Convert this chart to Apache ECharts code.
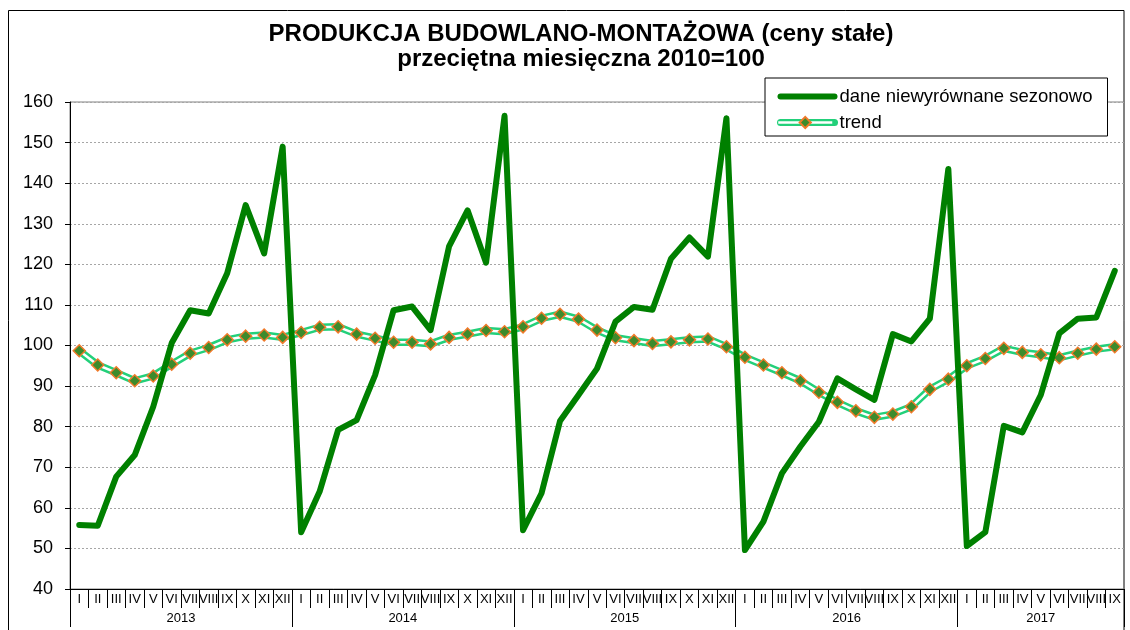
<!DOCTYPE html>
<html>
<head>
<meta charset="utf-8">
<script src="https://cdn.jsdelivr.net/npm/echarts@6/dist/echarts.min.js"></script>
<style>
  html, body { margin: 0; padding: 0; background: #fff; }
  #chart { width: 1130px; height: 630px; }
</style>
</head>
<body>
<div id="chart"></div>
<script>
// dane
var months = ['I', 'II', 'III', 'IV', 'V', 'VI', 'VII', 'VIII', 'IX', 'X', 'XI', 'XII'];
var years = ['2013', '2014', '2015', '2016', '2017'];
var monthsPerYear = [12, 12, 12, 12, 9];

var raw = [
    55.8, 55.6, 67.7, 73.0, 84.9, 100.6, 108.7, 107.9, 117.8, 134.6, 122.7, 149.0,
    54.0, 64.0, 79.2, 81.6, 92.7, 108.7, 109.6, 103.8, 124.4, 133.3, 120.4, 156.6,
    54.5, 63.6, 81.4, 87.8, 94.3, 105.9, 109.5, 108.8, 121.4, 126.6, 121.9, 156.0,
    49.6, 56.6, 68.5, 75.1, 81.2, 91.9, 89.2, 86.6, 102.8, 101.0, 106.6, 143.5,
    50.6, 54.0, 80.2, 78.6, 87.8, 103.0, 106.6, 106.9, 118.4
];

var trend = [
    98.7, 95.2, 93.3, 91.3, 92.5, 95.4, 98.1, 99.5, 101.4, 102.3, 102.6, 102.0,
    103.2, 104.5, 104.6, 102.8, 101.8, 100.8, 100.8, 100.4, 102.0, 102.8, 103.7, 103.4,
    104.6, 106.7, 107.7, 106.5, 103.8, 101.9, 101.2, 100.5, 100.9, 101.4, 101.6, 99.7,
    97.1, 95.2, 93.3, 91.3, 88.5, 86.0, 83.9, 82.3, 83.1, 84.9, 89.2, 91.7,
    95.0, 96.8, 99.3, 98.3, 97.7, 97.0, 98.1, 99.1, 99.7
];

var categories = [];
var yearOfMonth = [];
years.forEach(function (y, yi) {
    for (var m = 0; m < monthsPerYear[yi]; m++) {
        categories.push(months[m]);
        yearOfMonth.push(y);
    }
});

var FONT = 'Liberation Sans, Arial, sans-serif';
var N = categories.length;
var noSymbol = { color: 'rgba(0,0,0,0)', borderWidth: 0 };

var chart = echarts.init(document.getElementById('chart'));

chart.setOption({
    animation: false,
    textStyle: { fontFamily: FONT, color: '#000' },
    title: {
        text: 'PRODUKCJA BUDOWLANO-MONTAŻOWA (ceny stałe)\nprzeciętna miesięczna 2010=100',
        left: 576,
        top: 17,
        textAlign: 'center',
        textStyle: { fontFamily: FONT, fontSize: 24, fontWeight: 'bold', color: '#000', lineHeight: 25 }
    },
    legend: [{
        orient: 'vertical',
        left: 765,
        top: 78,
        padding: [9, 15, 4, 12],
        itemGap: 7,
        itemWidth: 54,
        itemHeight: 14,
        backgroundColor: '#fff',
        borderColor: '#000',
        borderWidth: 1,
        selectedMode: false,
        textStyle: { fontFamily: FONT, fontSize: 18.5, color: '#000' },
        data: [
            { name: 'dane niewyrównane sezonowo', itemStyle: noSymbol, lineStyle: { width: 6, color: '#008000', cap: 'round' } },
            { name: 'trend', itemStyle: noSymbol, lineStyle: { width: 7, color: '#22d07a', cap: 'round' } }
        ]
    }, {
        orient: 'vertical',
        left: 777,
        top: 115.5,
        padding: 0,
        itemWidth: 54,
        itemHeight: 14,
        selectedMode: false,
        formatter: function () { return ''; },
        data: [{ name: 'trendInner', lineStyle: { width: 2.5, color: '#fff' } }]
    }],
    grid: [{
        left: 70, right: 6, top: 102, bottom: 41,
        show: true, borderColor: '#808080', borderWidth: 1
    }, {
        left: 70, right: 6, top: 345.5, bottom: 41
    }],
    xAxis: [{
        type: 'category',
        gridIndex: 0,
        data: categories,
        boundaryGap: true,
        axisLine: { lineStyle: { color: '#000', width: 1 } },
        axisTick: { show: true, interval: 0, length: 19, lineStyle: { color: '#000' } },
        axisLabel: { interval: 0, margin: 4, fontSize: 13, color: '#000', fontFamily: FONT }
    }, {
        type: 'category',
        gridIndex: 0,
        position: 'bottom',
        offset: 19,
        data: yearOfMonth,
        boundaryGap: true,
        axisLine: { show: false },
        axisTick: {
            show: true,
            length: 19,
            lineStyle: { color: '#000' },
            interval: function (i) { return i % 12 === 0 || i === N; }
        },
        axisLabel: {
            margin: 4,
            fontSize: 13,
            color: '#000',
            interval: function (i) { return (i < 48 && i % 12 === 6) || i === 52; },
            formatter: function (v, i) { return i < 48 ? '{s|' + v + '}' : '{c|' + v + '}'; },
            rich: {
                s: { fontSize: 13, fontFamily: FONT, color: '#000', padding: [0, 18.5, 0, 0] },
                c: { fontSize: 13, fontFamily: FONT, color: '#000' }
            }
        }
    }, {
        type: 'category',
        gridIndex: 1,
        position: 'top',
        data: categories,
        boundaryGap: true,
        axisLine: { lineStyle: { color: '#000', width: 1 } },
        axisTick: { show: true, inside: true, interval: 0, length: 4, lineStyle: { color: '#000' } },
        axisLabel: { show: false }
    }],
    yAxis: [{
        type: 'value',
        gridIndex: 0,
        min: 40,
        max: 160,
        interval: 10,
        axisLine: { show: true, lineStyle: { color: '#000', width: 1 } },
        axisTick: { show: true, length: 5, lineStyle: { color: '#000' } },
        axisLabel: { margin: 17, fontSize: 18, color: '#000', fontFamily: FONT },
        splitLine: { lineStyle: { color: '#a6a6a6', type: [2, 2], width: 1 } }
    }, {
        type: 'value',
        gridIndex: 1,
        show: false
    }],
    series: [{
        name: 'trend',
        type: 'line',
        data: trend,
        symbol: 'none',
        z: 2,
        lineStyle: { color: '#22d07a', width: 7.5, join: 'round' }
    }, {
        name: 'trendInner',
        type: 'line',
        data: trend,
        symbol: 'diamond',
        symbolSize: 12,
        z: 3,
        itemStyle: { color: '#3d8b2c', borderColor: '#f07a2a', borderWidth: 1.5 },
        lineStyle: { color: '#fff', width: 2.5, join: 'round' }
    }, {
        name: 'dane niewyrównane sezonowo',
        type: 'line',
        data: raw,
        symbol: 'none',
        z: 4,
        lineStyle: { color: '#008000', width: 6, join: 'round', cap: 'round' }
    }],
    graphic: [{
        type: 'rect',
        silent: true,
        z: -10,
        shape: { x: 8.5, y: 10.5, width: 1115.5, height: 640 },
        style: { fill: 'none', stroke: '#000', lineWidth: 1 }
    }]
});
</script>
</body>
</html>
